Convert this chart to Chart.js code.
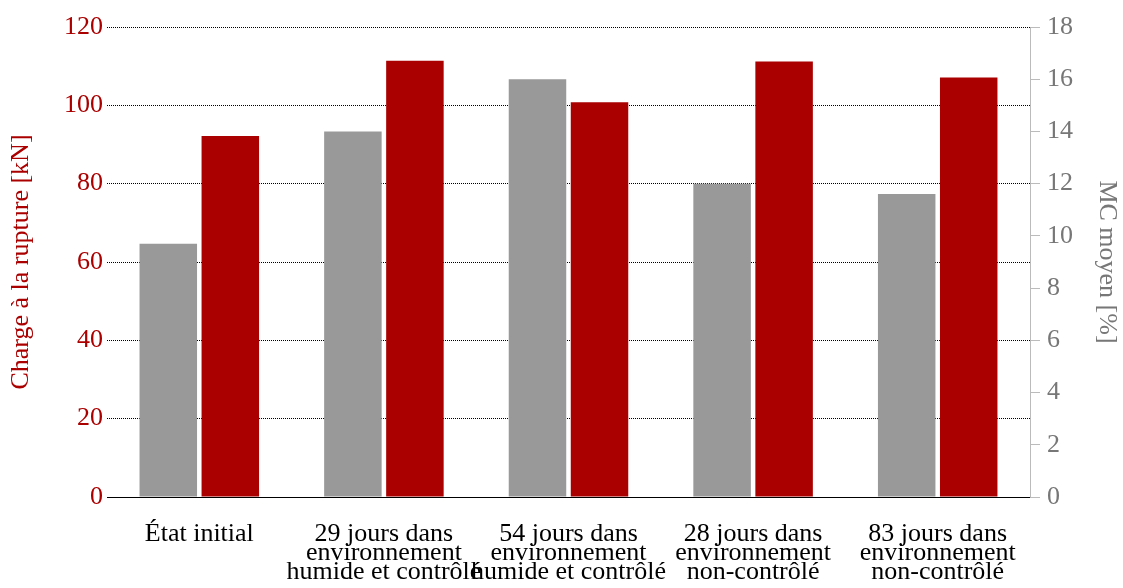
<!DOCTYPE html>
<html>
<head>
<meta charset="utf-8">
<script src="https://cdn.jsdelivr.net/npm/chart.js@4"></script>
<style>
  body { margin: 0; background: #fff; }
  #wrap { width: 1123px; height: 588px; }
</style>
</head>
<body>
<div id="wrap"><canvas id="myChart"></canvas></div>
<script>
// categories (multi-line tick labels)
var etats = [
    ['État initial'],
    ['29 jours dans', 'environnement', 'humide et contrôlé'],
    ['54 jours dans', 'environnement', 'humide et contrôlé'],
    ['28 jours dans', 'environnement', 'non-contrôlé'],
    ['83 jours dans', 'environnement', 'non-contrôlé']
];
// MC moyen [%] (right axis, gray)
var mcMoyen = [9.7, 14.0, 16.0, 12.0, 11.6];
// Charge à la rupture [kN] (left axis, red)
var chargeRupture = [92.2, 111.4, 100.8, 111.2, 107.1];

var rouge = '#aa0000';
var gris = '#999999';
var police = "'Liberation Serif', 'Times New Roman', serif";

function graphique (labels, mc, charge) {
    var ctx = document.getElementById('myChart').getContext('2d');
    var chart = new Chart(ctx, {
        type: 'bar',
        data: {
            labels: labels,
            datasets: [{
                label: 'MC moyen [%]',
                backgroundColor: gris,
                borderWidth: 0,
                yAxisID: 'y1',
                data: mc
            }, {
                label: 'Charge à la rupture [kN]',
                backgroundColor: rouge,
                borderWidth: 0,
                yAxisID: 'y',
                data: charge
            }]
        },
        options: {
            responsive: true,
            maintainAspectRatio: false,
            animation: false,
            categoryPercentage: 0.672,
            barPercentage: 0.927,
            layout: { padding: { top: 27, bottom: 5, left: 0, right: 0 } },
            plugins: {
                legend: { display: false },
                tooltip: { enabled: false }
            },
            scales: {
                x: {
                    grid: { display: false },
                    border: { display: true, color: '#000', width: 1 },
                    afterFit: function (scale) { scale.height = 86; },
                    ticks: {
                        color: '#000',
                        padding: 20,
                        maxRotation: 0,
                        autoSkip: false,
                        font: { family: police, size: 26, lineHeight: 0.72 }
                    }
                },
                y: {
                    position: 'left',
                    min: 0,
                    max: 120,
                    ticks: {
                        stepSize: 20,
                        color: rouge,
                        padding: 4,
                        font: { family: police, size: 26 }
                    },
                    grid: {
                        color: '#000',
                        lineWidth: 1,
                        drawTicks: false
                    },
                    border: { display: false, dash: [1, 1] },
                    title: {
                        display: true,
                        text: 'Charge à la rupture [kN]',
                        color: rouge,
                        padding: { top: 8, bottom: 26 },
                        font: { family: police, size: 26, lineHeight: 1 }
                    }
                },
                y1: {
                    position: 'right',
                    min: 0,
                    max: 18,
                    ticks: {
                        stepSize: 2,
                        color: '#777777',
                        padding: 7,
                        font: { family: police, size: 26 }
                    },
                    grid: {
                        drawOnChartArea: false,
                        color: '#bbbbbb',
                        tickLength: 10,
                        tickColor: '#bbbbbb'
                    },
                    border: { display: true, color: '#bbbbbb', width: 1 },
                    title: {
                        display: true,
                        text: 'MC moyen [%]',
                        color: '#777777',
                        padding: { top: 3, bottom: 14 },
                        font: { family: police, size: 26, lineHeight: 1 }
                    }
                }
            }
        }
    });
    return chart;
}

graphique(etats, mcMoyen, chargeRupture);
</script>
</body>
</html>
